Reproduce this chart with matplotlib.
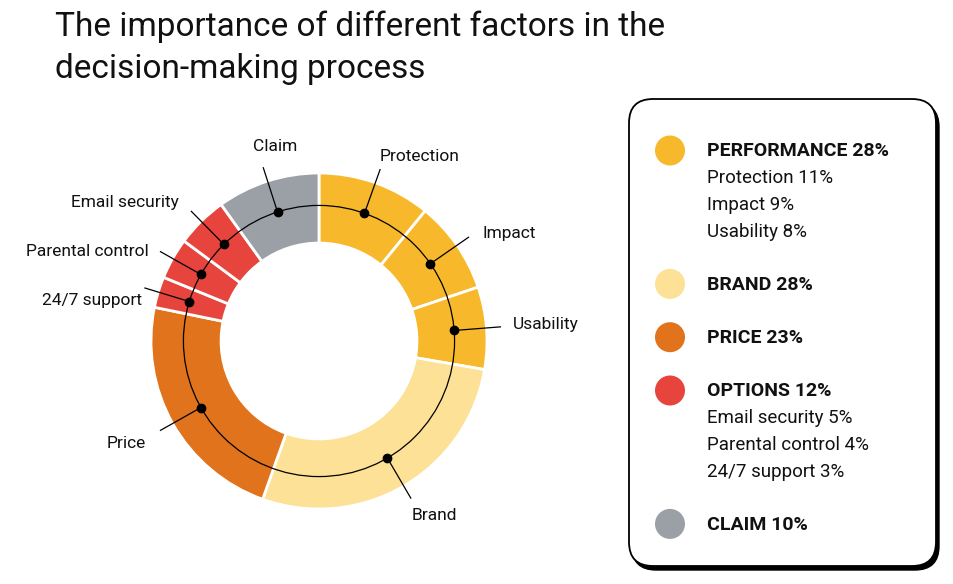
import matplotlib
matplotlib.use('Agg')
import matplotlib.pyplot as plt
import numpy as np
from matplotlib.patches import FancyBboxPatch, Circle

plt.rcParams['font.family'] = ['Roboto', 'DejaVu Sans']

title_lines = ["The importance of different factors in the", "decision-making process"]

groups = ['PERFORMANCE', 'BRAND', 'PRICE', 'OPTIONS', 'CLAIM']
group_share = [28, 28, 23, 12, 10]
group_colors = ['#F7B92B', '#FCE196', '#E0731B', '#E8443E', '#9AA0A6']

segments = ['Protection', 'Impact', 'Usability', 'Brand', 'Price',
            '24/7 support', 'Parental control', 'Email security', 'Claim']
seg_values = [11, 9, 8, 28, 23, 3, 4, 5, 10]
seg_group = [0, 0, 0, 1, 2, 3, 3, 3, 4]

# label offset from the leader end, in pixels (dx, dy, ha)
label_pos = {
    'Protection': (0, 13, 'left'),
    'Impact': (14, 4, 'left'),
    'Usability': (12, 2, 'left'),
    'Brand': (1, -17, 'left'),
    'Price': (-15, -13, 'right'),
    '24/7 support': (-3, -12, 'right'),
    'Parental control': (-12, 0, 'right'),
    'Email security': (-12, 9, 'right'),
    'Claim': (12, 21, 'center'),
}

fig = plt.figure(figsize=(9.54, 5.84), dpi=100)

# overlay in pixel coordinates for title and legend box
bg = fig.add_axes([0, 0, 1, 1])
bg.set_xlim(0, 954)
bg.set_ylim(584, 0)
bg.axis('off')

for i, line in enumerate(title_lines):
    bg.text(55, 36 + 42 * i, line, fontsize=24, va='baseline', ha='left', color='#111111')

# donut
ax = fig.add_axes([99 / 954, 23 / 584, 440 / 954, 440 / 584])
colors = [group_colors[g] for g in seg_group]
wedges, _ = ax.pie(seg_values, radius=1, startangle=90, counterclock=False, colors=colors,
                   wedgeprops=dict(width=0.417, edgecolor='white', linewidth=2))
lim = 220 / 168
ax.set_xlim(-lim, lim)
ax.set_ylim(-lim, lim)
ax.set_aspect('equal')
ax.axis('off')

r_ring = 0.807
r_end = 1.083
ax.add_patch(Circle((0, 0), r_ring, fill=False, lw=0.9, ec='black', zorder=3))

for w, name in zip(wedges, segments):
    a = np.deg2rad((w.theta1 + w.theta2) / 2)
    x0, y0 = r_ring * np.cos(a), r_ring * np.sin(a)
    x1, y1 = r_end * np.cos(a), r_end * np.sin(a)
    ax.plot([x0, x1], [y0, y1], color='black', lw=0.9, zorder=4, clip_on=False)
    ax.plot(x0, y0, 'o', ms=6, color='black', zorder=5)
    dx, dy, ha = label_pos[name]
    ax.annotate(name, (x1, y1), xytext=(dx, dy), textcoords='offset pixels',
                ha=ha, va='center', fontsize=12.5, color='#111111', annotation_clip=False)

# legend box with shadow
shadow = FancyBboxPatch((632, 103), 307, 467, boxstyle='round,pad=0,rounding_size=24',
                        fc='black', ec='black', lw=1)
box = FancyBboxPatch((629, 99), 307, 467, boxstyle='round,pad=0,rounding_size=24',
                     fc='white', ec='black', lw=1.3)
bg.add_patch(shadow)
bg.add_patch(box)

y = 151.5
for gi, (gname, share, col) in enumerate(zip(groups, group_share, group_colors)):
    bg.add_patch(Circle((670, y - 1), 15, fc=col, ec='none'))
    bg.text(707, y, f'{gname} {share}%', fontsize=14, fontweight='bold', va='center', ha='left',
            color='#111111')
    members = [(v, s) for s, v, g in zip(segments, seg_values, seg_group) if g == gi]
    if len(members) > 1:
        for v, s in sorted(members, reverse=True):
            y += 26.7
            bg.text(707, y, f'{s} {v}%', fontsize=13.5, va='center', ha='left', color='#111111')
    y += 53.3

fig.savefig('out.png', dpi=100)
